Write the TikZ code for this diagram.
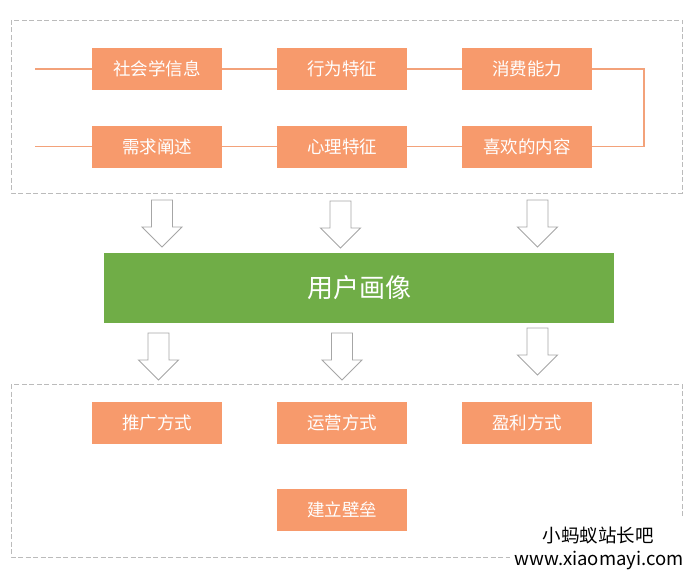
\documentclass[tikz,border=0pt]{standalone}
\usepackage{fontspec}
\newfontfamily\cjk{Noto Sans CJK SC}
\definecolor{boxorange}{HTML}{F79A6C}
\definecolor{lineorange}{HTML}{F3A27A}
\definecolor{titlegreen}{HTML}{70AD47}
\definecolor{dashgray}{HTML}{BBBBBB}
\definecolor{arrowgray}{HTML}{A6A6A6}
\tikzset{
  obox/.style={fill=boxorange, draw=none, minimum width=130pt, minimum height=42pt, inner sep=0pt, text=white, font=\cjk\fontsize{17.5}{20}\selectfont},
  oline/.style={draw=lineorange, line width=1.8pt},
  dashbox/.style={draw=dashgray, line width=0.8pt, dash pattern=on 5pt off 2.5pt},
  arrowline/.style={draw=arrowgray, line width=0.9pt, fill=white, line join=miter},
  downarrow/.pic={\draw[arrowline] (-10.5,0) -- (10.5,0) -- (10.5,27) -- (20,27) -- (0,47) -- (-20,27) -- (-10.5,27) -- cycle;},
  wm/.style={text=black, inner sep=0pt, font=\cjk\fontsize{18.5}{21}\selectfont}
}
\begin{document}
\begin{tikzpicture}[x=1pt,y=-1pt]
\useasboundingbox (0,0) rectangle (695,575);
% dashed frames
\draw[dashbox] (11,20) rectangle (682,193);
\draw[dashbox] (11,384) rectangle (682,557);
% top boxes
\node[obox] (b1) at (157,69) {社会学信息};
\node[obox] (b2) at (342,69) {行为特征};
\node[obox] (b3) at (527,69) {消费能力};
\node[obox] (b4) at (157,146.5) {需求阐述};
\node[obox] (b5) at (342,146.5) {心理特征};
\node[obox] (b6) at (527,146.5) {喜欢的内容};
\coordinate (l1) at (35,69);
\coordinate (l2) at (35,146.5);
\draw[oline] (l1) -- (b1.west);
\draw[oline] (b1.east) -- (b2.west);
\draw[oline] (b2.east) -- (b3.west);
\draw[oline] (b3.east) -- ++(52,0) |- (b6.east);
\draw[oline] (l2) -- (b4.west);
\draw[oline] (b4.east) -- (b5.west);
\draw[oline] (b5.east) -- (b6.west);
% arrows
\pic at (162,200) {downarrow};
\pic at (340.5,201) {downarrow};
\pic at (537.5,200) {downarrow};
% title
\node[fill=titlegreen, minimum width=510pt, minimum height=70pt, inner sep=0pt, text=white, font=\cjk\fontsize{26}{29}\selectfont] (title) at (359,288) {用户画像};
\pic at (158.5,333) {downarrow};
\pic at (342,333) {downarrow};
\pic at (537.5,328) {downarrow};
% bottom boxes
\node[obox] (c1) at (157,423) {推广方式};
\node[obox] (c2) at (342,423) {运营方式};
\node[obox] (c3) at (527,423) {盈利方式};
\node[obox] (c4) at (342,510) {建立壁垒};
% watermark
\fill[white] (510,519) rectangle (695,575);
\node[wm] (wm1) at (598,535) {小蚂蚁站长吧};
\node[wm] (wm2) at (599,560) {www.xiaomayi.com};
\end{tikzpicture}
\end{document}
